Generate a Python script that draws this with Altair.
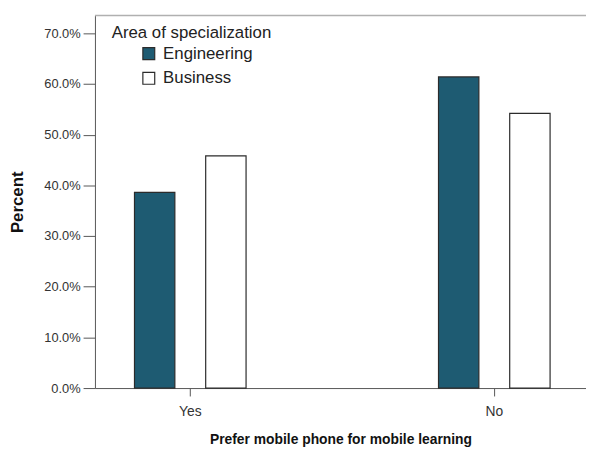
import altair as alt
import pandas as pd

categories = ["Yes", "No"]
groups = ["Engineering", "Business"]
engineering = [0.386, 0.614]
business = [0.458, 0.542]

rows = []
for i, c in enumerate(categories):
    rows.append({"pref": c, "area": "Engineering", "pct": engineering[i]})
    rows.append({"pref": c, "area": "Business", "pct": business[i]})
df = pd.DataFrame(rows)

FONT = "Liberation Sans"
W, H = 497, 377

bars = alt.Chart(df).mark_bar(stroke="#2b2b2b", strokeWidth=1.2).encode(
    x=alt.X("pref:N", sort=categories,
            scale=alt.Scale(paddingInner=0.633, paddingOuter=0.1241, align=0.524),
            axis=alt.Axis(title="Prefer mobile phone for mobile learning", labelAngle=0,
                          domainColor="#555555", tickColor="#555555", tickSize=8,
                          labelFont=FONT, labelFontSize=14, labelColor="#333333",
                          labelPadding=9, titleFont=FONT, titleFontSize=14,
                          titleFontWeight="bold", titleColor="#111111", titlePadding=14)),
    xOffset=alt.XOffset("area:N", sort=groups,
                        scale=alt.Scale(paddingInner=0.433, paddingOuter=0)),
    y=alt.Y("pct:Q", scale=alt.Scale(domain=[0, 0.735], nice=False),
            axis=alt.Axis(title="Percent", format=".1%",
                          values=[0, 0.1, 0.2, 0.3, 0.4, 0.5, 0.6, 0.7],
                          grid=False, domainColor="#555555", tickColor="#555555",
                          tickSize=12, labelFont=FONT, labelFontSize=13,
                          labelColor="#333333", labelPadding=3,
                          titleFont=FONT, titleFontSize=17, titleFontWeight="bold",
                          titleColor="#111111", titlePadding=17)),
    color=alt.Color("area:N", sort=groups,
                    scale=alt.Scale(domain=groups, range=["#1e5b72", "#ffffff"]),
                    legend=alt.Legend(title="Area of specialization", orient="none",
                                      legendX=17, legendY=10, symbolType="square",
                                      symbolSize=144, symbolStrokeColor="#2b2b2b",
                                      symbolStrokeWidth=1.2, symbolOffset=29,
                                      titleFont=FONT, titleFontSize=17,
                                      titleFontWeight="normal", titleColor="#222222",
                                      titlePadding=3, labelFont=FONT, labelFontSize=17,
                                      labelColor="#222222", rowPadding=7,
                                      labelOffset=6)),
)

border = alt.Chart(pd.DataFrame({"a": [0]})).mark_rule(
    color="#b0b0b0", strokeWidth=1.5).encode(
    x=alt.value(0), x2=alt.value(W), y=alt.value(0))

chart = alt.layer(bars, border).properties(
    width=W, height=H,
    autosize=alt.AutoSizeParams(type="none"),
    padding={"left": 88, "top": 5, "right": 0, "bottom": 58},
).configure_view(stroke=None)

chart.save("out.html", embed_options={"renderer": "svg", "actions": False})
